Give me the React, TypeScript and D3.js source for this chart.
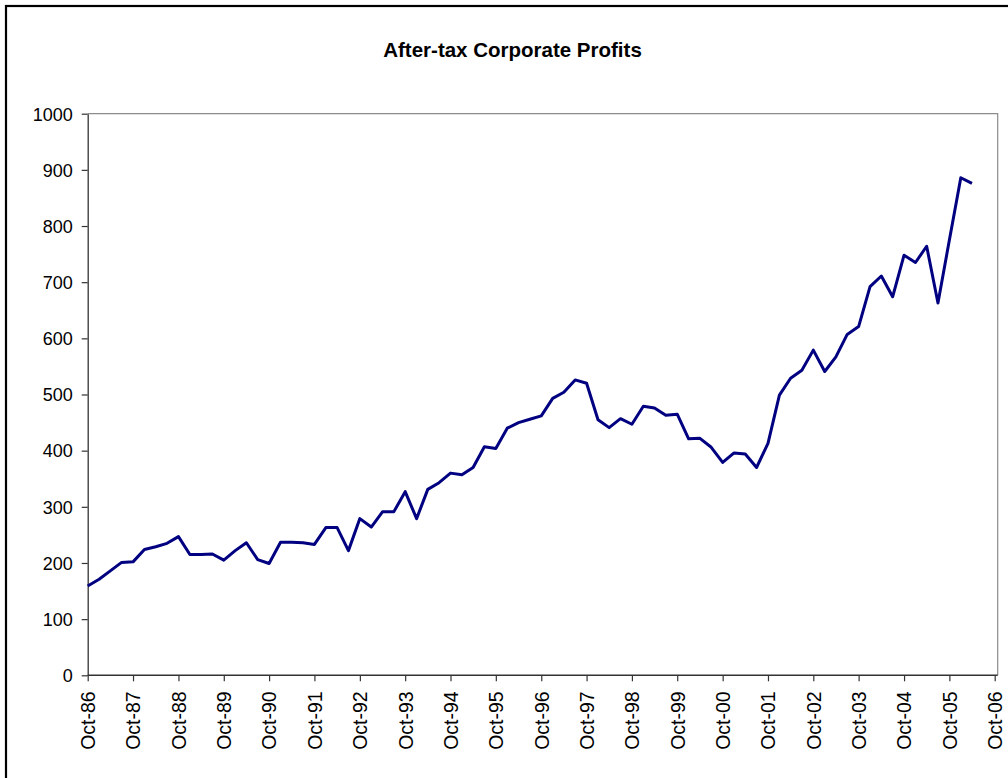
import * as d3 from 'd3';
import { useEffect, useRef } from 'react';

// After-tax corporate profits, quarterly from Oct-86 to Apr-06
const profits = [
  159, 171, 186, 201, 202, 224, 229, 235, 247, 215,
  215, 216, 205, 222, 236, 206, 199, 237, 237, 236,
  233, 263, 263, 222, 279, 264, 291, 291, 327, 279,
  331, 343, 360, 357, 370, 407, 404, 440, 450, 456,
  462, 493, 504, 526, 520, 455, 441, 457, 447, 479,
  476, 463, 465, 421, 422, 406, 379, 396, 394, 370,
  413, 499, 529, 543, 579, 541, 567, 607, 621, 692,
  711, 674, 748, 735, 764, 663, 775, 886, 876,
];
const firstQuarter = new Date(Date.UTC(1986, 9, 1));
const quarters = profits.map((_, i) => d3.utcMonth.offset(firstQuarter, i * 3));
const data = quarters.map((date, i) => ({ date, value: profits[i] }));

const yTicks = [0, 100, 200, 300, 400, 500, 600, 700, 800, 900, 1000];
const xTickDates = d3.utcMonth.range(firstQuarter, new Date(Date.UTC(2006, 10, 1)), 12);
const title = "After-tax Corporate Profits";

const font = "Arial, 'Liberation Sans', sans-serif";

export default function App() {
  const svgRef = useRef(null);

  useEffect(() => {
    d3.select(svgRef.current).selectAll("*").remove();

    const width = 1008;
    const height = 778;
    const marginTop = 113.7;
    const marginLeft = 87.7;
    const plotBottom = 675.3;
    const lastTickX = 994.7;
    const plotRight = 997.7;

    const x = d3.scaleUtc([firstQuarter, xTickDates[xTickDates.length - 1]], [marginLeft, lastTickX]);
    const y = d3.scaleLinear([0, 1000], [plotBottom, marginTop]);

    const svg = d3.select(svgRef.current)
      .attr("width", width)
      .attr("height", height)
      .attr("viewBox", [0, 0, width, height])
      .style("position", "absolute")
      .style("left", 0)
      .style("top", 0)
      .style("background", "#fff");

    // outer chart border (runs off the right and bottom)
    svg.append("rect")
      .attr("x", 6)
      .attr("y", 6)
      .attr("width", 1020)
      .attr("height", 800)
      .attr("fill", "none")
      .attr("stroke", "#000")
      .attr("stroke-width", 2.2);

    // title
    svg.append("text")
      .attr("x", 512.5)
      .attr("y", 57)
      .attr("text-anchor", "middle")
      .attr("font-family", font)
      .attr("font-weight", "bold")
      .attr("font-size", 20.5)
      .text(title);

    // plot area frame (top and right in grey)
    svg.append("path")
      .attr("fill", "none")
      .attr("stroke", "#8c8c8c")
      .attr("stroke-width", 1.2)
      .attr("d", `M${marginLeft},${marginTop}H${plotRight}V${plotBottom}`);

    // y axis
    svg.append("g")
      .attr("transform", `translate(${marginLeft},0)`)
      .call(d3.axisLeft(y).tickValues(yTicks).tickFormat(d3.format("d")).tickSize(6).tickPadding(9).tickSizeOuter(0))
      .call(g => g.select(".domain").attr("stroke", "#333").attr("stroke-width", 1.3))
      .call(g => g.selectAll(".tick line").attr("stroke", "#333").attr("stroke-width", 1.2))
      .call(g => g.selectAll("text")
        .attr("font-family", font)
        .attr("font-size", 18)
        .attr("fill", "#000")
        .attr("dy", "0.35em"));

    // x axis
    svg.append("g")
      .attr("transform", `translate(0,${plotBottom})`)
      .call(d3.axisBottom(x).tickValues(xTickDates).tickFormat(d3.utcFormat("%b-%y")).tickSize(6).tickSizeOuter(0))
      .call(g => g.select(".domain")
        .attr("d", `M${marginLeft},0H${plotRight}`)
        .attr("stroke", "#333").attr("stroke-width", 1.6))
      .call(g => g.selectAll(".tick line").attr("stroke", "#333").attr("stroke-width", 1.2))
      .call(g => g.selectAll("text")
        .attr("font-family", font)
        .attr("font-size", 19.5)
        .attr("fill", "#000")
        .attr("text-anchor", "end")
        .attr("transform", "rotate(-90)")
        .attr("x", -16)
        .attr("y", 0)
        .attr("dy", "0.35em")
        .attr("dx", 0));

    // the profits line
    const line = d3.line()
      .x(d => x(d.date))
      .y(d => y(d.value));

    svg.append("path")
      .attr("fill", "none")
      .attr("stroke", "#000080")
      .attr("stroke-width", 3)
      .attr("stroke-linejoin", "round")
      .attr("d", line(data));
  }, []);

  return <svg ref={svgRef} />;
}
